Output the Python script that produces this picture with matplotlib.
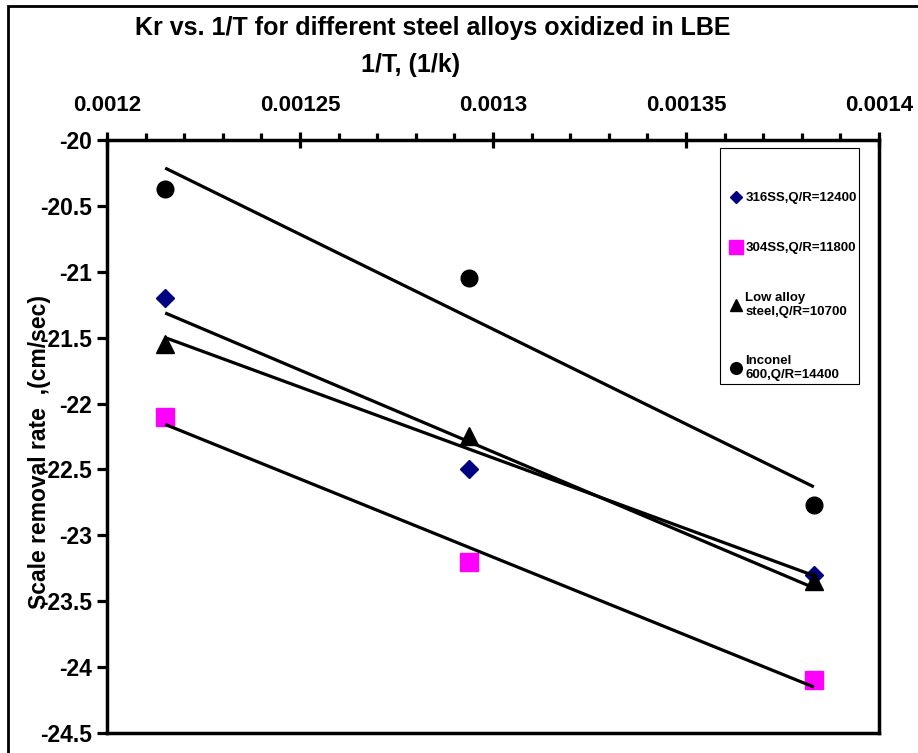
import matplotlib.pyplot as plt
import numpy as np
from matplotlib.patches import Rectangle
from matplotlib.ticker import MultipleLocator

plt.rcParams['font.family'] = ['Liberation Sans', 'DejaVu Sans']
plt.rcParams['font.weight'] = 'bold'

# температуры 823, 773, 723 K -> 1/T
inv_t = [1 / 823, 1 / 773, 1 / 723]

ss316 = [-21.2, -22.5, -23.3]
ss304 = [-22.1, -23.2, -24.1]
low_alloy = [-21.55, -22.25, -23.35]
inconel = [-20.37, -21.05, -22.77]

labels = ["316SS,Q/R=12400", "304SS,Q/R=11800",
          "Low alloy\nsteel,Q/R=10700", "Inconel\n600,Q/R=14400"]
xticks = [0.0012, 0.00125, 0.0013, 0.00135, 0.0014]
xtick_labels = ["0.0012", "0.00125", "0.0013", "0.00135", "0.0014"]

fig = plt.figure(figsize=(9.18, 7.53), dpi=100)
ax = fig.add_axes([0.1166, 0.0266, 0.8409, 0.7875])

series = [ss316, ss304, low_alloy, inconel]
styles = [dict(marker="D", color="#000080", ms=9.2),
          dict(marker="s", color="#FF00FF", ms=13.5),
          dict(marker="^", color="black", ms=13),
          dict(marker="o", color="black", ms=12)]

x = np.array(inv_t)
for y, st, lab in zip(series, styles, labels):
    ax.plot(x, y, linestyle="none", marker=st["marker"], color=st["color"],
            ms=st["ms"], mec=st["color"], label=lab)
    k, b = np.polyfit(x, y, 1)  # линейный тренд
    ax.plot(x[[0, -1]], k * x[[0, -1]] + b, color="black", lw=2.3,
            solid_capstyle="butt")

ax.set_xlim(0.0012, 0.0014)
ax.set_ylim(-24.5, -20)
ax.xaxis.set_minor_locator(MultipleLocator(0.00001))
ax.set_xticks(xticks)
ax.set_xticklabels(xtick_labels)
yt = np.arange(-24.5, -19.99, 0.5)
ax.set_yticks(yt)
ax.set_yticklabels(["%g" % v for v in yt])

ax.xaxis.tick_top()
ax.tick_params(axis="x", which="major", direction="inout", length=11, width=2.3,
               labelsize=16, pad=12)
ax.tick_params(axis="x", which="minor", direction="out", length=5, width=2.3)
ax.tick_params(axis="y", which="major", direction="out", length=7, width=2.3,
               labelsize=16.5, pad=4)
for sp in ax.spines.values():
    sp.set_linewidth(2.5)

fig.text(0.471, 0.963, "Kr vs. 1/T for different steel alloys oxidized in LBE",
         fontsize=18, fontweight="bold", ha="center", va="center")
fig.text(0.447, 0.914, "1/T, (1/k)", fontsize=18, fontweight="bold",
         ha="center", va="center")
fig.text(0.043, 0.400, "Scale removal rate  ,(cm/sec)", fontsize=16.5,
         fontweight="bold", ha="center", va="center", rotation=90)

# рамка легенды отдельно (как в Excel - большой отступ сверху)
ax.add_patch(Rectangle((0.794, (733 - 384) / 593), 0.18, 236 / 593,
                       transform=ax.transAxes, fill=False, edgecolor="black",
                       lw=0.8, zorder=5))
leg = ax.legend(loc="upper left", bbox_to_anchor=(0.808, 0.912), fontsize=9.5,
                frameon=False, labelspacing=2.85, handlelength=0.75,
                handletextpad=0.35, borderpad=0, borderaxespad=0,
                markerscale=0.7)
for t in leg.get_texts():
    t.set_fontweight("bold")

fig.patches.append(Rectangle((8 / 918, -0.05), 1.1, 1.05 - 6 / 753,
                             transform=fig.transFigure, fill=False,
                             edgecolor="black", lw=2))

fig.savefig("out.png", dpi=100)
